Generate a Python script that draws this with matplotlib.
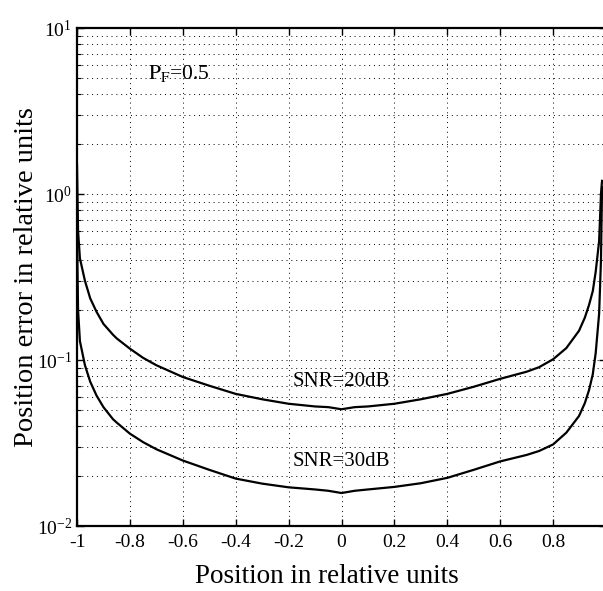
import matplotlib
matplotlib.use("Agg")
import matplotlib.pyplot as plt
from matplotlib.ticker import LogLocator, NullFormatter

plt.rcParams['font.family'] = ['Liberation Serif', 'DejaVu Serif']
plt.rcParams['mathtext.fontset'] = 'stix'

# position samples (relative units) and error
pos = [-1.0, -0.996, -0.989, -0.97, -0.95, -0.926, -0.9, -0.864, -0.85, -0.8,
       -0.75, -0.7, -0.6, -0.5, -0.4, -0.3, -0.2, -0.1, -0.05, 0.0,
       0.05, 0.1, 0.2, 0.3, 0.4, 0.5, 0.6, 0.7, 0.747, 0.8,
       0.85, 0.898, 0.92, 0.936, 0.95, 0.961, 0.974, 0.981, 0.985]
err_20db = [1.5, 0.6, 0.41, 0.30, 0.235, 0.195, 0.165, 0.142, 0.135, 0.117,
            0.103, 0.093, 0.079, 0.070, 0.0625, 0.058, 0.0545, 0.0525, 0.052, 0.0505,
            0.052, 0.0525, 0.0545, 0.058, 0.0625, 0.069, 0.077, 0.085, 0.0905, 0.101,
            0.118, 0.150, 0.180, 0.215, 0.26, 0.34, 0.52, 1.0, 1.2]
err_30db = [0.6, 0.2, 0.13, 0.093, 0.074, 0.061, 0.052, 0.044, 0.042, 0.036,
            0.032, 0.029, 0.0248, 0.0218, 0.0193, 0.0180, 0.0171, 0.0166, 0.0163, 0.0158,
            0.0163, 0.0166, 0.0172, 0.0181, 0.0195, 0.0218, 0.0245, 0.0268, 0.0283, 0.031,
            0.0365, 0.046, 0.055, 0.066, 0.082, 0.11, 0.19, 0.4, 1.1]

xticks = [-1, -0.8, -0.6, -0.4, -0.2, 0, 0.2, 0.4, 0.6, 0.8, 1]
xticklabels = ['-1', '-0.8', '-0.6', '-0.4', '-0.2', '0', '0.2', '0.4', '0.6', '0.8', '1']

fig = plt.figure(figsize=(6.03, 5.91), dpi=100)
W, H = 603, 591
ax = fig.add_axes([77 / W, 1 - 526 / H, 529 / W, 498 / H])

ax.plot(pos, err_20db, color='black', lw=1.6)
ax.plot(pos, err_30db, color='black', lw=1.6)

ax.set_yscale('log')
ax.set_ylim(1e-2, 1e1)
ax.set_xlim(-1, 1)
ax.set_xticks(xticks)
ax.set_xticklabels(xticklabels)
ax.yaxis.set_major_locator(LogLocator(base=10, numticks=10))
ax.yaxis.set_minor_locator(LogLocator(base=10, subs=range(2, 10), numticks=100))
ax.yaxis.set_minor_formatter(NullFormatter())

ax.grid(True, which='major', axis='x', color='black', lw=0.7, linestyle=(0, (1, 4)))
ax.grid(True, which='both', axis='y', color='black', lw=0.7, linestyle=(0, (1, 4)))

ax.tick_params(which='both', direction='in', top=True, right=True, labelsize=14)
ax.tick_params(which='major', length=5, width=1)
ax.tick_params(which='minor', length=3, width=0.8)
ax.tick_params(axis='x', pad=6)
for s in ax.spines.values():
    s.set_linewidth(1.6)

ax.text(-0.73, 5.3, r'$\mathrm{P_F}$=0.5', fontsize=15.5, ha='left', va='center')
ax.text(0.0, 0.074, 'SNR=20dB', fontsize=15, ha='center', va='center')
ax.text(0.0, 0.0243, 'SNR=30dB', fontsize=15, ha='center', va='center')

ax.set_xlabel('Position in relative units', fontsize=19.5)
ax.set_ylabel('Position error in relative units', fontsize=20.5)
ax.xaxis.set_label_coords(0.472, -0.076)
ax.yaxis.set_label_coords(-0.072, 0.5)

fig.savefig('out.png', dpi=100)
